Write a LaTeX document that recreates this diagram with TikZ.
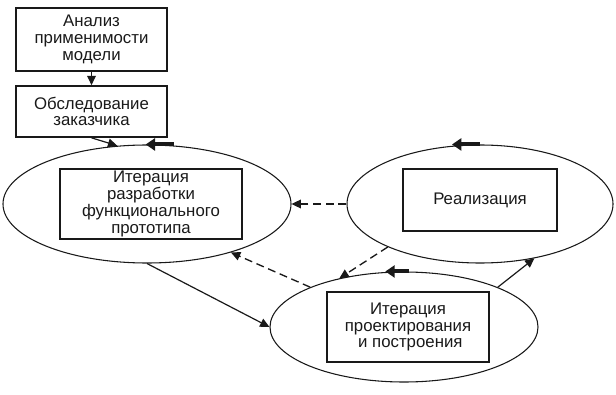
\documentclass[tikz,border=0pt]{standalone}
\usepackage{fontspec}
\setmainfont{Liberation Sans}
\usetikzlibrary{arrows.meta, shapes.geometric, positioning}
\definecolor{ink}{RGB}{25,25,25}

\tikzset{
  stagebox/.style={draw=ink, line width=1.5pt, align=center, inner sep=0pt,
                   font=\fontsize{12.6}{12.6}\selectfont, text=ink},
  loopell/.style={draw=ink, ellipse, line width=0.8pt, inner sep=0pt},
  flow/.style={draw=ink, line width=0.9pt, -{Triangle[length=7pt,width=6.5pt]}},
  backflow/.style={flow, line width=1pt, dash pattern=on 6pt off 3.5pt},
  turn/.style={draw=ink, line width=3pt, -{Triangle[length=7pt,width=9pt]}}
}

\begin{document}
\begin{tikzpicture}[x=0.75pt, y=-0.75pt]
  \useasboundingbox (0,0) rectangle (616,395);

  % stages before the loops
  \node[stagebox, minimum width=113pt, minimum height=47pt] (analiz) at (91.5,39.5)
    {Анализ\\применимости\\модели};
  \node[stagebox, minimum width=113pt, minimum height=38pt] (obsl) at (91.5,111.5)
    {Обследование\\заказчика};

  % iteration loops
  \node[loopell, minimum width=216pt, minimum height=88.5pt] (protoell) at (147,204) {};
  \node[loopell, minimum width=199.5pt, minimum height=88.5pt] (realell) at (480,204) {};
  \node[loopell, minimum width=201pt, minimum height=82.5pt] (buildell) at (404,327) {};

  \node[stagebox, minimum width=136.5pt, minimum height=52.5pt] (proto) at (151,204)
    {Итерация\\разработки\\функционального\\прототипа};
  \node[stagebox, minimum width=115.5pt, minimum height=47pt] (real) at (480,200)
    {Реализация};
  \node[stagebox, minimum width=121.5pt, minimum height=52.5pt] (build) at (408,327)
    {Итерация\\проектирования\\\ и построения};

  % direction of each loop
  \draw[turn] ([xshift=20pt]protoell.north) -- ([xshift=-1pt]protoell.north);
  \draw[turn] (realell.north) -- ([xshift=-21pt]realell.north);
  \draw[turn] ([xshift=4pt]buildell.north) -- ([xshift=-14pt]buildell.north);

  % connectors
  \draw[flow] (analiz.south) -- (obsl.north);
  \draw[flow] (obsl.south) -- (protoell.117);
  \draw[flow] (protoell.south) -- (buildell.west);
  \draw[flow] (buildell.23) -- (realell.-45);
  \draw[backflow] (realell.west) -- (protoell.east);
  \draw[backflow] (realell.205) -- (buildell.143);
  \draw[backflow] (buildell.157) -- (protoell.330);
\end{tikzpicture}
\end{document}
